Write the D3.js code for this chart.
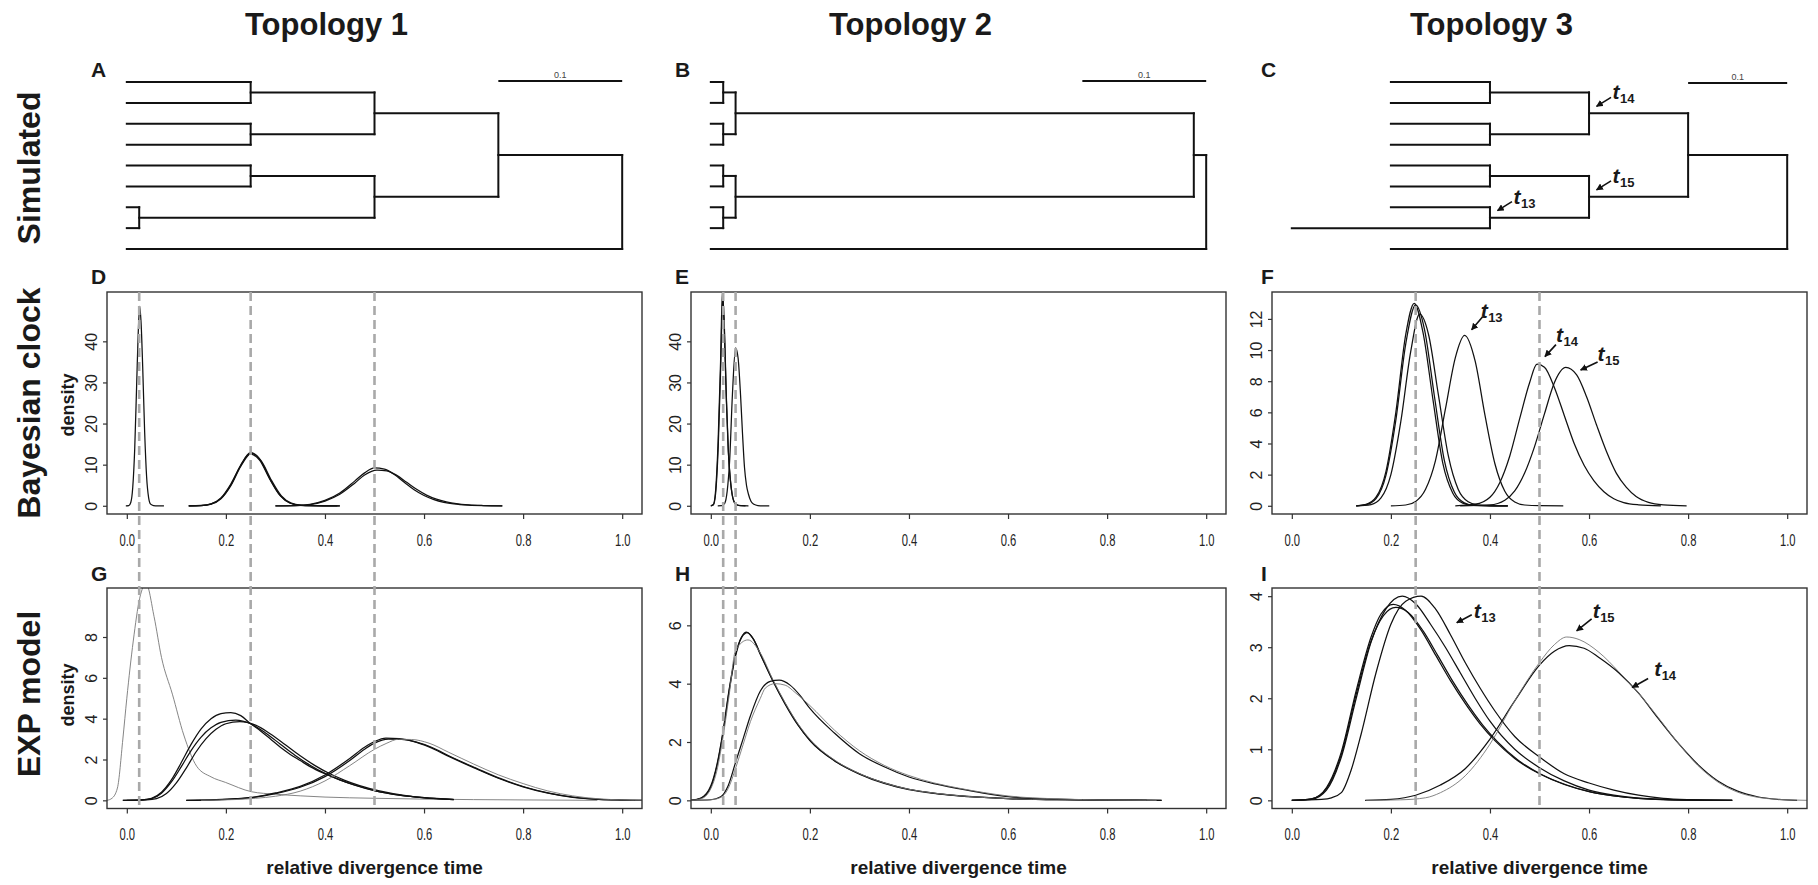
<!DOCTYPE html>
<html>
<head>
<meta charset="utf-8">
<script src="https://cdn.jsdelivr.net/npm/d3@7"></script>
<style>
  body { margin: 0; background: #fff; }
  svg text { font-family: "Liberation Sans", Arial, Helvetica, sans-serif; fill: #1a1a1a; }
</style>
</head>
<body>
<svg id="fig" width="1818" height="885"></svg>
<script>
// ---- labels ----
const columnTitles = ["Topology 1", "Topology 2", "Topology 3"];
const rowTitles = ["Simulated", "Bayesian clock", "EXP model"];
const panelLetters = [["A", "B", "C"], ["D", "E", "F"], ["G", "H", "I"]];
const xTickValues = [0, 0.2, 0.4, 0.6, 0.8, 1.0];
const clockYMax = [50, 50, 13.2];
const expYMax = [10, 7, 4];
const clockYTicks = [[0, 10, 20, 30, 40], [0, 10, 20, 30, 40], [0, 2, 4, 6, 8, 10, 12]];
const expYTicks = [[0, 2, 4, 6, 8], [0, 2, 4, 6], [0, 1, 2, 3, 4]];
const trueTimes = [[0.025, 0.25, 0.5], [0.025, 0.05], [0.25, 0.5]];
const scaleBarLength = 0.1;

// ---- simulated trees: [node height, upper child, lower child, label]; a number is a tip height ----
const tree1 = [0.4, [0.3, [0.2, [0.1, 0, 0], [0.1, 0, 0]], [0.2, [0.1, 0, 0], [0.01, 0, 0]]], 0];
const tree2 = [0.4, [0.39, [0.02, [0.01, 0, 0], [0.01, 0, 0]], [0.02, [0.01, 0, 0], [0.01, 0, 0]]], 0];
const tree3 = [0.4, [0.3, [0.2, [0.1, 0, 0], [0.1, 0, 0], "14"], [0.2, [0.1, 0, 0], [0.1, 0, -0.1, "13"], "15"]], 0];

// ---- Bayesian clock posterior densities [time, density] ----
const clock1_tip = [[-0.002,0],[0.004,0.05],[0.008,0.8],[0.012,4.5],[0.016,14],[0.02,30],[0.023,42],[0.026,48.5],[0.029,44],[0.032,34],[0.036,18],[0.04,7],[0.044,2],[0.048,0.4],[0.054,0.05],[0.062,0],[0.075,0]];
const clock1_a = [[0.125,0],[0.15,0.06],[0.17,0.42],[0.19,1.8],[0.21,5.1],[0.23,9.9],[0.25,12.9],[0.27,11.0],[0.29,6.3],[0.31,2.4],[0.33,0.62],[0.35,0.11],[0.37,0.015],[0.4,0],[0.43,0]];
const clock1_b = [[0.125,0],[0.15,0.05],[0.17,0.38],[0.19,1.7],[0.21,4.9],[0.23,9.6],[0.252,12.8],[0.272,10.8],[0.292,6.2],[0.312,2.4],[0.332,0.65],[0.352,0.12],[0.372,0.02],[0.4,0],[0.43,0]];
const clock1_c = [[0.125,0],[0.15,0.07],[0.17,0.46],[0.19,1.9],[0.21,5.3],[0.23,9.8],[0.248,12.6],[0.268,11.1],[0.288,6.6],[0.308,2.7],[0.328,0.75],[0.348,0.14],[0.368,0.02],[0.4,0],[0.425,0]];
const clock1_d = [[0.3,0],[0.34,0.06],[0.37,0.35],[0.4,1.3],[0.43,3.1],[0.46,6.0],[0.48,8.0],[0.5,9.2],[0.52,8.9],[0.54,7.6],[0.56,5.7],[0.58,3.9],[0.6,2.5],[0.62,1.5],[0.64,0.85],[0.66,0.45],[0.69,0.15],[0.72,0.04],[0.758,0]];
const clock1_e = [[0.3,0],[0.34,0.05],[0.37,0.3],[0.4,1.15],[0.43,2.8],[0.46,5.5],[0.48,7.5],[0.505,8.7],[0.525,8.5],[0.545,7.4],[0.565,5.7],[0.585,4.0],[0.605,2.6],[0.625,1.6],[0.645,0.95],[0.665,0.5],[0.69,0.2],[0.72,0.06],[0.758,0]];

const clock2_a = [[0,0],[0.005,0.3],[0.009,2.8],[0.0148,15.8],[0.0197,35],[0.0235,52.5],[0.027,44],[0.031,27],[0.035,14],[0.039,6.9],[0.043,2.8],[0.047,1.0],[0.052,0.25],[0.06,0.02],[0.076,0]];
const clock2_b = [[0,0],[0.005,0.2],[0.009,2.2],[0.015,14.5],[0.02,34],[0.024,51],[0.0275,43],[0.0315,26],[0.0355,13],[0.0395,6.2],[0.0435,2.4],[0.0475,0.8],[0.053,0.2],[0.061,0.02],[0.07,0]];
const clock2_c = [[0.014,0],[0.022,0.05],[0.028,0.6],[0.033,3.5],[0.038,11],[0.0436,27],[0.05,38.4],[0.055,36],[0.06,27],[0.064,17.5],[0.068,9.3],[0.072,5],[0.076,2.8],[0.081,1.1],[0.087,0.35],[0.095,0.06],[0.105,0],[0.118,0]];

const clock3_a = [[0.13,0],[0.15,0.09],[0.17,0.55],[0.19,2.2],[0.21,6.0],[0.23,11.0],[0.247,13.0],[0.265,11.1],[0.285,6.8],[0.305,2.7],[0.325,0.8],[0.345,0.17],[0.365,0.03],[0.4,0],[0.436,0]];
const clock3_b = [[0.13,0],[0.15,0.07],[0.17,0.46],[0.19,1.95],[0.21,5.5],[0.23,10.4],[0.25,12.9],[0.268,11.3],[0.288,7.0],[0.308,2.9],[0.328,0.88],[0.348,0.19],[0.368,0.03],[0.4,0],[0.436,0]];
const clock3_c = [[0.13,0],[0.16,0.08],[0.18,0.5],[0.2,2.0],[0.22,5.4],[0.24,9.9],[0.258,12.3],[0.276,11.0],[0.296,7.1],[0.316,3.2],[0.336,1.05],[0.356,0.26],[0.376,0.05],[0.41,0],[0.436,0]];
const clock3_t13 = [[0.2,0],[0.23,0.05],[0.25,0.28],[0.27,1.06],[0.29,2.9],[0.31,6.2],[0.33,9.5],[0.349,10.94],[0.37,9.3],[0.39,5.8],[0.41,2.7],[0.43,0.93],[0.45,0.24],[0.47,0.05],[0.5,0.005],[0.548,0]];
const clock3_t14 = [[0.33,0],[0.37,0.1],[0.4,0.55],[0.42,1.5],[0.44,3.2],[0.46,5.6],[0.48,7.9],[0.495,9.09],[0.51,8.9],[0.53,7.6],[0.55,5.8],[0.57,4.0],[0.59,2.6],[0.61,1.6],[0.63,0.9],[0.65,0.45],[0.67,0.2],[0.7,0.06],[0.745,0]];
const clock3_t15 = [[0.34,0],[0.4,0.05],[0.43,0.35],[0.45,0.95],[0.47,2.1],[0.49,3.8],[0.51,5.9],[0.53,7.9],[0.553,8.88],[0.575,8.4],[0.595,7.0],[0.615,5.2],[0.635,3.5],[0.655,2.1],[0.675,1.2],[0.695,0.6],[0.72,0.22],[0.75,0.06],[0.797,0]];

// ---- EXP model posterior densities [time, density] ----
const exp1_tip = [[-0.04,0],[-0.03,0.1],[-0.019,0.6],[-0.008,3.0],[0,5.0],[0.013,7.8],[0.026,9.9],[0.039,10.6],[0.055,9.0],[0.07,7.0],[0.092,5.2],[0.115,3.2],[0.141,1.67],[0.17,1.15],[0.199,0.88],[0.252,0.42],[0.3,0.3],[0.35,0.22],[0.4,0.16],[0.5,0.1],[0.6,0.06],[0.7,0.035],[0.8,0.02],[0.95,0]];
const exp1_a = [[-0.008,0],[0.03,0.02],[0.05,0.1],[0.07,0.4],[0.09,1.0],[0.11,1.85],[0.13,2.75],[0.15,3.5],[0.17,4.0],[0.19,4.25],[0.21,4.3],[0.23,4.15],[0.25,3.75],[0.27,3.4],[0.29,3.0],[0.31,2.6],[0.33,2.25],[0.35,1.95],[0.37,1.65],[0.4,1.3],[0.43,1.0],[0.46,0.75],[0.5,0.48],[0.55,0.26],[0.6,0.13],[0.66,0.05]];
const exp1_b = [[-0.008,0],[0.03,0.02],[0.05,0.08],[0.07,0.35],[0.09,0.9],[0.11,1.65],[0.13,2.45],[0.15,3.1],[0.17,3.55],[0.19,3.82],[0.22,3.93],[0.25,3.75],[0.28,3.3],[0.31,2.75],[0.34,2.2],[0.37,1.72],[0.4,1.32],[0.43,1.0],[0.46,0.74],[0.5,0.47],[0.55,0.25],[0.6,0.12],[0.66,0.04]];
const exp1_c = [[0,0],[0.04,0.02],[0.06,0.08],[0.08,0.33],[0.1,0.85],[0.12,1.58],[0.14,2.38],[0.16,3.02],[0.18,3.48],[0.2,3.75],[0.228,3.85],[0.26,3.68],[0.29,3.25],[0.32,2.72],[0.35,2.18],[0.38,1.7],[0.41,1.3],[0.44,0.98],[0.47,0.72],[0.51,0.46],[0.56,0.24],[0.61,0.11],[0.66,0.04]];
const exp1_d = [[0.12,0],[0.18,0.03],[0.22,0.08],[0.26,0.17],[0.3,0.36],[0.35,0.68],[0.4,1.24],[0.45,2.05],[0.48,2.6],[0.5,2.88],[0.523,3.05],[0.55,3.02],[0.58,2.88],[0.61,2.62],[0.65,2.15],[0.7,1.6],[0.75,1.08],[0.8,0.66],[0.85,0.35],[0.9,0.15],[0.95,0.05],[1.0,0.015],[1.05,0]];
const exp1_e = [[0.12,0],[0.18,0.025],[0.22,0.07],[0.26,0.16],[0.3,0.33],[0.35,0.64],[0.4,1.16],[0.45,1.95],[0.48,2.5],[0.5,2.8],[0.528,3.0],[0.555,2.98],[0.585,2.85],[0.615,2.6],[0.655,2.12],[0.705,1.58],[0.755,1.06],[0.805,0.64],[0.855,0.34],[0.905,0.14],[0.955,0.05],[1.0,0.015],[1.05,0]];
const exp1_f = [[0.15,0],[0.22,0.04],[0.26,0.1],[0.3,0.2],[0.35,0.45],[0.4,0.95],[0.45,1.7],[0.5,2.5],[0.525,2.8],[0.548,2.99],[0.575,2.98],[0.61,2.8],[0.65,2.35],[0.7,1.78],[0.75,1.25],[0.8,0.82],[0.85,0.46],[0.9,0.22],[0.95,0.08],[1.0,0.02],[1.05,0]];

const exp2_a = [[-0.04,0],[-0.02,0.08],[0,0.5],[0.012,1.2],[0.025,2.4],[0.037,3.8],[0.05,5.0],[0.062,5.6],[0.072,5.77],[0.085,5.55],[0.1,5.0],[0.125,4.1],[0.15,3.3],[0.175,2.6],[0.2,2.05],[0.25,1.35],[0.3,0.9],[0.35,0.58],[0.4,0.37],[0.45,0.24],[0.5,0.15],[0.6,0.06],[0.7,0.02],[0.8,0.01],[0.91,0]];
const exp2_b = [[-0.04,0],[-0.02,0.07],[0,0.45],[0.012,1.15],[0.025,2.35],[0.037,3.75],[0.05,4.95],[0.062,5.58],[0.074,5.75],[0.087,5.5],[0.102,4.95],[0.127,4.05],[0.152,3.26],[0.177,2.57],[0.202,2.02],[0.25,1.36],[0.3,0.91],[0.35,0.6],[0.4,0.38],[0.45,0.25],[0.5,0.16],[0.6,0.06],[0.7,0.02],[0.8,0.01],[0.91,0]];
const exp2_c = [[-0.04,0],[-0.02,0.05],[0,0.4],[0.012,1.0],[0.025,2.2],[0.037,3.6],[0.05,5.15],[0.075,5.5],[0.1,5.05],[0.125,4.15],[0.15,3.35],[0.175,2.65],[0.2,2.1],[0.25,1.38],[0.3,0.92],[0.35,0.6],[0.4,0.38],[0.45,0.25],[0.5,0.16],[0.6,0.06],[0.7,0.02],[0.8,0.01],[0.9,0]];
const exp2_d = [[-0.04,0],[0,0.02],[0.02,0.12],[0.035,0.5],[0.05,1.3],[0.065,2.1],[0.08,2.9],[0.1,3.75],[0.12,4.08],[0.138,4.12],[0.16,3.95],[0.18,3.6],[0.2,3.15],[0.25,2.3],[0.3,1.6],[0.35,1.15],[0.4,0.8],[0.45,0.57],[0.5,0.4],[0.55,0.25],[0.6,0.13],[0.7,0.04],[0.8,0.01],[0.88,0]];
const exp2_e = [[-0.04,0],[0,0.02],[0.02,0.1],[0.035,0.4],[0.05,1.1],[0.065,1.9],[0.08,2.7],[0.1,3.5],[0.11,3.85],[0.13,4.0],[0.15,3.95],[0.17,3.7],[0.2,3.25],[0.25,2.4],[0.3,1.7],[0.35,1.2],[0.4,0.85],[0.45,0.6],[0.5,0.42],[0.55,0.27],[0.6,0.15],[0.7,0.05],[0.8,0.01],[0.88,0]];

const exp3_a = [[0,0],[0.04,0.02],[0.07,0.2],[0.1,0.85],[0.13,2.0],[0.16,3.1],[0.19,3.75],[0.223,4.0],[0.25,3.85],[0.28,3.45],[0.31,3.0],[0.34,2.5],[0.37,2.0],[0.4,1.55],[0.45,1.0],[0.5,0.64],[0.55,0.38],[0.6,0.2],[0.65,0.1],[0.7,0.045],[0.75,0.02],[0.8,0.008],[0.889,0]];
const exp3_b = [[0,0],[0.04,0.03],[0.07,0.25],[0.1,0.95],[0.13,2.15],[0.16,3.2],[0.18,3.65],[0.205,3.84],[0.23,3.72],[0.26,3.35],[0.29,2.85],[0.32,2.35],[0.35,1.9],[0.38,1.5],[0.41,1.17],[0.45,0.82],[0.5,0.52],[0.55,0.31],[0.6,0.17],[0.65,0.085],[0.7,0.04],[0.8,0.006],[0.889,0]];
const exp3_c = [[0,0],[0.04,0.03],[0.07,0.23],[0.1,0.9],[0.13,2.08],[0.16,3.12],[0.185,3.62],[0.21,3.78],[0.235,3.68],[0.265,3.32],[0.295,2.83],[0.325,2.33],[0.355,1.88],[0.385,1.48],[0.415,1.15],[0.455,0.8],[0.505,0.5],[0.555,0.3],[0.605,0.16],[0.655,0.08],[0.705,0.035],[0.8,0.006],[0.889,0]];
const exp3_t13 = [[0,0],[0.06,0.02],[0.08,0.05],[0.1,0.15],[0.12,0.6],[0.14,1.3],[0.17,2.5],[0.2,3.45],[0.23,3.9],[0.261,4.0],[0.29,3.75],[0.32,3.25],[0.35,2.7],[0.38,2.2],[0.41,1.75],[0.45,1.25],[0.5,0.85],[0.55,0.52],[0.6,0.34],[0.65,0.2],[0.7,0.1],[0.75,0.04],[0.8,0.015],[0.889,0]];
const exp3_t14 = [[0.148,0],[0.2,0.02],[0.25,0.1],[0.3,0.3],[0.35,0.62],[0.4,1.2],[0.45,1.95],[0.5,2.65],[0.53,2.92],[0.56,3.03],[0.59,2.98],[0.62,2.8],[0.66,2.5],[0.7,2.1],[0.74,1.6],[0.78,1.12],[0.82,0.7],[0.86,0.38],[0.9,0.18],[0.94,0.07],[0.98,0.02],[1.02,0]];
const exp3_t15 = [[0.15,0],[0.22,0.01],[0.27,0.05],[0.3,0.15],[0.35,0.48],[0.4,1.1],[0.45,1.95],[0.5,2.7],[0.53,3.05],[0.555,3.2],[0.58,3.15],[0.62,2.9],[0.66,2.52],[0.7,2.1],[0.74,1.62],[0.78,1.12],[0.82,0.68],[0.86,0.36],[0.9,0.16],[0.94,0.06],[0.98,0.02],[1.04,0]];

const clockCurves = [
  [clock1_tip, clock1_a, clock1_b, clock1_c, clock1_d, clock1_e],
  [clock2_a, clock2_b, clock2_c],
  [clock3_a, clock3_b, clock3_c, clock3_t13, clock3_t14, clock3_t15]
];
const expCurves = [
  [exp1_tip, exp1_a, exp1_b, exp1_c, exp1_d, exp1_e, exp1_f],
  [exp2_a, exp2_b, exp2_c, exp2_d, exp2_e],
  [exp3_a, exp3_b, exp3_c, exp3_t13, exp3_t14, exp3_t15]
];
const greyCurves = [exp1_tip, exp1_f, exp2_c, exp2_e, exp3_t15];

// node labels pointing at curves: [subscript, time, density]
const clock3Labels = [["13", 0.363, 11.3], ["14", 0.511, 9.58], ["15", 0.583, 8.72]];
const exp3Labels = [["13", 0.333, 3.48], ["15", 0.575, 3.32], ["14", 0.687, 2.21]];

// ---- layout ----
const colFrames = [[107, 642], [691, 1226], [1272, 1807]];
const clockRow = [292, 514];
const expRow = [588, 808.5];
const treeRow = [82, 249];

const svg = d3.select("#fig");
const defs = svg.append("defs");
defs.append("marker").attr("id", "arrow")
  .attr("viewBox", "0 0 10 10").attr("refX", 9).attr("refY", 5)
  .attr("markerWidth", 7).attr("markerHeight", 7).attr("markerUnits", "userSpaceOnUse")
  .attr("orient", "auto")
  .append("path").attr("d", "M0,0L10,5L0,10z").attr("fill", "#111");

function colX(c) {
  return d3.scaleLinear().domain([-0.04, 1.04]).range(colFrames[c]);
}
function colCenter(c) { return (colFrames[c][0] + colFrames[c][1]) / 2; }

// column and row titles
svg.selectAll(".ctitle").data(columnTitles).join("text")
  .attr("x", (d, i) => colCenter(i) - 48).attr("y", 35)
  .attr("text-anchor", "middle").style("font-size", "31px").style("font-weight", "bold")
  .text(d => d);

const rowCenters = [168, 403, 694];
svg.selectAll(".rtitle").data(rowTitles).join("text")
  .attr("transform", (d, i) => `translate(40,${rowCenters[i]}) rotate(-90)`)
  .attr("text-anchor", "middle").style("font-size", "32px").style("font-weight", "bold")
  .text(d => d);

// panel letters
const letterLeft = [91, 675, 1261];
const letterBase = [77, 284, 581];
panelLetters.forEach((row, r) => row.forEach((l, c) => {
  svg.append("text").attr("x", letterLeft[c]).attr("y", letterBase[r])
    .style("font-size", "21px").style("font-weight", "bold").text(l);
}));

function nodeLabel(g, px, py, sub, tipDx, tipDy, tailDx, tailDy, txtDx, txtDy) {
  g.append("line")
    .attr("x1", px + tailDx).attr("y1", py + tailDy)
    .attr("x2", px + tipDx).attr("y2", py + tipDy)
    .attr("stroke", "#111").attr("stroke-width", 1.6).attr("marker-end", "url(#arrow)");
  const t = g.append("text").attr("x", px + txtDx).attr("y", py + txtDy).style("font-weight", "bold");
  t.append("tspan").style("font-size", "21px").style("font-style", "italic").text("t");
  t.append("tspan").attr("dy", 4).attr("dx", 0.5).style("font-size", "13px").text(sub);
}

// ---- trees ----
function drawTree(tree, c) {
  const g = svg.append("g");
  const hOf = d => Array.isArray(d) ? d[0] : d;
  const root = d3.hierarchy(tree, d => Array.isArray(d) ? d.slice(1, 3) : null);
  const leaves = root.leaves();
  const y = d3.scalePoint().domain(d3.range(leaves.length)).range(treeRow);
  leaves.forEach((l, i) => { l.py = y(i); });
  root.eachAfter(n => {
    if (n.children) n.py = (n.children[0].py + n.children[n.children.length - 1].py) / 2;
  });
  const cx = colX(c);
  const x = d3.scaleLinear()
    .domain([d3.min(leaves, l => hOf(l.data)), hOf(root.data)])
    .range([cx(0), cx(1)]);
  root.each(n => { n.px = x(hOf(n.data)); });

  const segs = [];
  root.each(n => {
    if (!n.children) return;
    segs.push([n.px, n.children[0].py, n.px, n.children[n.children.length - 1].py]);
    n.children.forEach(ch => segs.push([ch.px, ch.py, n.px, ch.py]));
  });
  g.selectAll("line.edge").data(segs).join("line")
    .attr("x1", d => d[0]).attr("y1", d => d[1]).attr("x2", d => d[2]).attr("y2", d => d[3])
    .attr("stroke", "#111").attr("stroke-width", 2).attr("stroke-linecap", "square");

  // scale bar
  const rootH = hOf(root.data);
  const barY = c === 2 ? 83 : 81;
  g.append("line")
    .attr("x1", x(rootH - scaleBarLength)).attr("x2", x(rootH))
    .attr("y1", barY).attr("y2", barY)
    .attr("stroke", "#111").attr("stroke-width", 2);
  g.append("text")
    .attr("x", (x(rootH - scaleBarLength) + x(rootH)) / 2).attr("y", barY - 3.5)
    .attr("text-anchor", "middle").style("font-size", "9px").style("fill", "#444")
    .text(String(scaleBarLength));

  // node annotations
  root.each(n => {
    if (n.children && Array.isArray(n.data) && n.data[3]) {
      nodeLabel(g, n.px, n.py, n.data[3], 7.5, -7, 22, -16, 23.5, -14);
    }
  });
}
drawTree(tree1, 0);
drawTree(tree2, 1);
drawTree(tree3, 2);

// ---- density panels ----
const line = d3.line().curve(d3.curveMonotoneX);

function drawDensity(c, rowRange, yMax, yTicks, curves, id) {
  const x = colX(c);
  const y = d3.scaleLinear().domain([-0.04 * yMax, 1.04 * yMax]).range([rowRange[1], rowRange[0]]);
  const g = svg.append("g");
  const clipId = "clip" + id;
  defs.append("clipPath").attr("id", clipId).append("rect")
    .attr("x", colFrames[c][0]).attr("y", rowRange[0])
    .attr("width", colFrames[c][1] - colFrames[c][0]).attr("height", rowRange[1] - rowRange[0]);

  const lg = g.append("g").attr("clip-path", `url(#${clipId})`);
  lg.selectAll("path").data(curves).join("path")
    .attr("d", d => line.x(p => x(p[0])).y(p => y(p[1]))(d))
    .attr("fill", "none")
    .attr("stroke", d => greyCurves.includes(d) ? "#777" : "#111")
    .attr("stroke-width", d => greyCurves.includes(d) ? 0.9 : 1.25);

  g.append("rect")
    .attr("x", colFrames[c][0]).attr("y", rowRange[0])
    .attr("width", colFrames[c][1] - colFrames[c][0]).attr("height", rowRange[1] - rowRange[0])
    .attr("fill", "none").attr("stroke", "#333").attr("stroke-width", 1.4);

  const xa = g.append("g").attr("transform", `translate(0,${rowRange[1]})`)
    .call(d3.axisBottom(x).tickValues(xTickValues).tickSize(5).tickFormat(d3.format(".1f")));
  xa.select(".domain").remove();
  xa.selectAll(".tick line").attr("stroke", "#333").attr("stroke-width", 1.2);
  xa.selectAll(".tick text")
    .attr("y", 32).attr("dy", null)
    .attr("transform", "scale(0.66,1)")
    .style("font-size", "17px").style("font-family", "'Liberation Sans', Arial, sans-serif").style("fill", "#222");

  const ya = g.append("g").attr("transform", `translate(${colFrames[c][0]},0)`)
    .call(d3.axisLeft(y).tickValues(yTicks).tickSize(4).tickFormat(d3.format("d")));
  ya.select(".domain").remove();
  ya.selectAll(".tick line").attr("stroke", "#333").attr("stroke-width", 1.2);
  ya.selectAll(".tick text")
    .attr("x", 0).attr("y", -10).attr("dy", null)
    .attr("text-anchor", "middle").attr("transform", "rotate(-90)")
    .style("font-size", "16px").style("font-family", "'Liberation Sans', Arial, sans-serif").style("fill", "#222");

  return { x, y, g };
}

const clockPanels = clockCurves.map((cv, c) => drawDensity(c, clockRow, clockYMax[c], clockYTicks[c], cv, "c" + c));
const expPanels = expCurves.map((cv, c) => drawDensity(c, expRow, expYMax[c], expYTicks[c], cv, "e" + c));

// true node times as dashed lines through both density rows
trueTimes.forEach((times, c) => {
  const x = colX(c);
  svg.selectAll(null).data(times).join("line")
    .attr("x1", d => x(d)).attr("x2", d => x(d))
    .attr("y1", clockRow[0]).attr("y2", expRow[1])
    .attr("stroke", "#a9a9a9").attr("stroke-width", 2.6).attr("stroke-dasharray", "9,5");
});

// curve annotations in the topology 3 panels
const clockLabelOffsets = [[11, -13, 9, -12], [11, -12, 11, -15], [17, -8, 17, -9]];
clock3Labels.forEach((l, i) => {
  const p = clockPanels[2];
  const o = clockLabelOffsets[i];
  nodeLabel(svg, p.x(l[1]), p.y(l[2]), l[0], 0, 0, o[0], o[1], o[2], o[3]);
});
const expLabelOffsets = [[15, -8, 17, -5], [15, -12, 16, -13], [16, -9, 22, -12]];
exp3Labels.forEach((l, i) => {
  const p = expPanels[2];
  const o = expLabelOffsets[i];
  nodeLabel(svg, p.x(l[1]), p.y(l[2]), l[0], 0, 0, o[0], o[1], o[2], o[3]);
});

// axis titles
svg.append("text").attr("transform", "translate(74,405) rotate(-90)")
  .attr("text-anchor", "middle").style("font-size", "18px").style("font-weight", "bold").text("density");
svg.append("text").attr("transform", "translate(74,695) rotate(-90)")
  .attr("text-anchor", "middle").style("font-size", "18px").style("font-weight", "bold").text("density");
[0, 1, 2].forEach(c => {
  svg.append("text").attr("x", colCenter(c)).attr("y", 874)
    .attr("text-anchor", "middle").style("font-size", "19px").style("font-weight", "bold")
    .text("relative divergence time");
});
</script>
</body>
</html>
